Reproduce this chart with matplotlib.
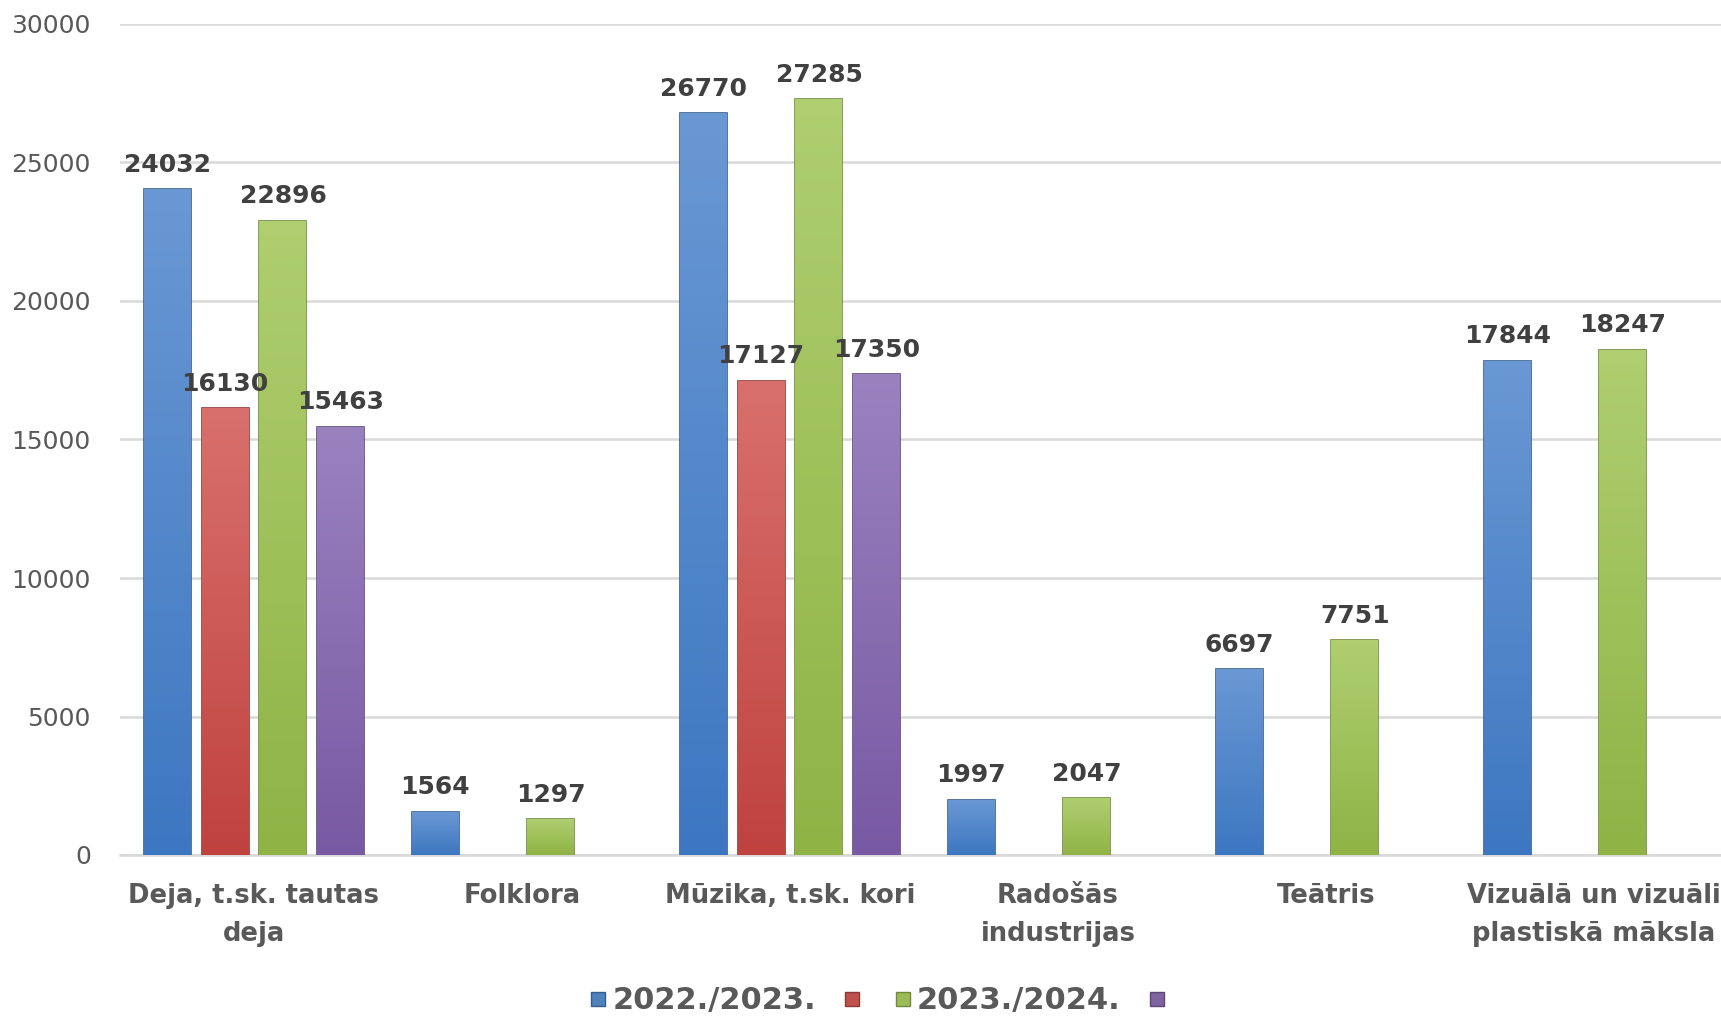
import matplotlib
matplotlib.use("Agg")
import matplotlib.pyplot as plt
import numpy as np
from matplotlib.colors import LinearSegmentedColormap
from matplotlib.lines import Line2D

# dati
kategorijas = ["Deja, t.sk. tautas\ndeja", "Folklora", "Mūzika, t.sk. kori",
               "Radošās\nindustrijas", "Teātris", "Vizuālā un vizuāli\nplastiskā māksla"]
s_2022 = [24032, 1564, 26770, 1997, 6697, 17844]
s_red = [16130, np.nan, 17127, np.nan, np.nan, np.nan]
s_2023 = [22896, 1297, 27285, 2047, 7751, 18247]
s_purple = [15463, np.nan, 17350, np.nan, np.nan, np.nan]
leg_labels = ["2022./2023.", "", "2023./2024.", ""]

series = [s_2022, s_red, s_2023, s_purple]
# (augša, apakša, mala)
colors = [("#6A98D4", "#3D77C1", "#385D8A"),
          ("#D9706D", "#BF423F", "#8C3836"),
          ("#AFCF70", "#8FB345", "#71893F"),
          ("#9A82BF", "#7859A3", "#5C4776")]
mid = ["#4F81BD", "#C0504D", "#9BBB59", "#8064A2"]

fig = plt.figure(figsize=(17.21, 10.17), dpi=100)
ax = fig.add_axes([120 / 1721, 162 / 1017, 1608 / 1721, 831 / 1017])

x = np.arange(len(kategorijas))
step = 0.216
width = 0.175

for i, vals in enumerate(series):
    top, bot, edge = colors[i]
    cmap = LinearSegmentedColormap.from_list("g%d" % i, [bot, top])
    bars = ax.bar(x + (i - 1.5) * step, vals, width, color=mid[i],
                  edgecolor=edge, linewidth=1.2, zorder=3)
    for b, v in zip(bars, vals):
        if np.isnan(v):
            continue
        x0, w, h = b.get_x(), b.get_width(), b.get_height()
        grad = np.linspace(0, 1, 256).reshape(-1, 1)
        im = ax.imshow(grad, extent=[x0, x0 + w, 0, h], origin="lower",
                       aspect="auto", cmap=cmap, zorder=3.5)
        im.set_clip_path(b)
        ax.annotate(f"{int(v)}", (x0 + w / 2, h), xytext=(0, 9),
                    textcoords="offset points", ha="center", va="bottom",
                    fontsize=18, fontweight="bold", color="#404040", zorder=5)

ax.set_xlim(-0.5, len(kategorijas) - 0.5)
ax.set_ylim(0, 30000)
ax.set_yticks(np.arange(0, 30001, 5000))
ax.grid(axis="y", color="#D9D9D9", linewidth=1.8, zorder=0)
ax.set_axisbelow(True)
for s in ["top", "right", "left"]:
    ax.spines[s].set_visible(False)
ax.spines["bottom"].set_color("#D9D9D9")
ax.spines["bottom"].set_linewidth(1.8)
ax.tick_params(axis="both", length=0)
ax.tick_params(axis="y", labelsize=18, labelcolor="#595959", pad=21)
ax.set_xticks(x)
ax.set_xticklabels(kategorijas, fontsize=18.6, fontweight="bold", color="#595959",
                   linespacing=1.6)
ax.tick_params(axis="x", pad=20)

handles = [Line2D([], [], linestyle="none", marker="s", markersize=10,
                  markerfacecolor=mid[i], markeredgecolor=colors[i][2])
           for i in range(4)]
fig.legend(handles, leg_labels, loc="center", ncol=4,
           bbox_to_anchor=(880 / 1721, 1 - 1001 / 1017), frameon=False,
           prop={"family": "DejaVu Sans", "weight": "bold", "size": 22},
           labelcolor="#595959", handlelength=0.6, handletextpad=0.15,
           columnspacing=0.9)

fig.savefig("out.png", dpi=100)
